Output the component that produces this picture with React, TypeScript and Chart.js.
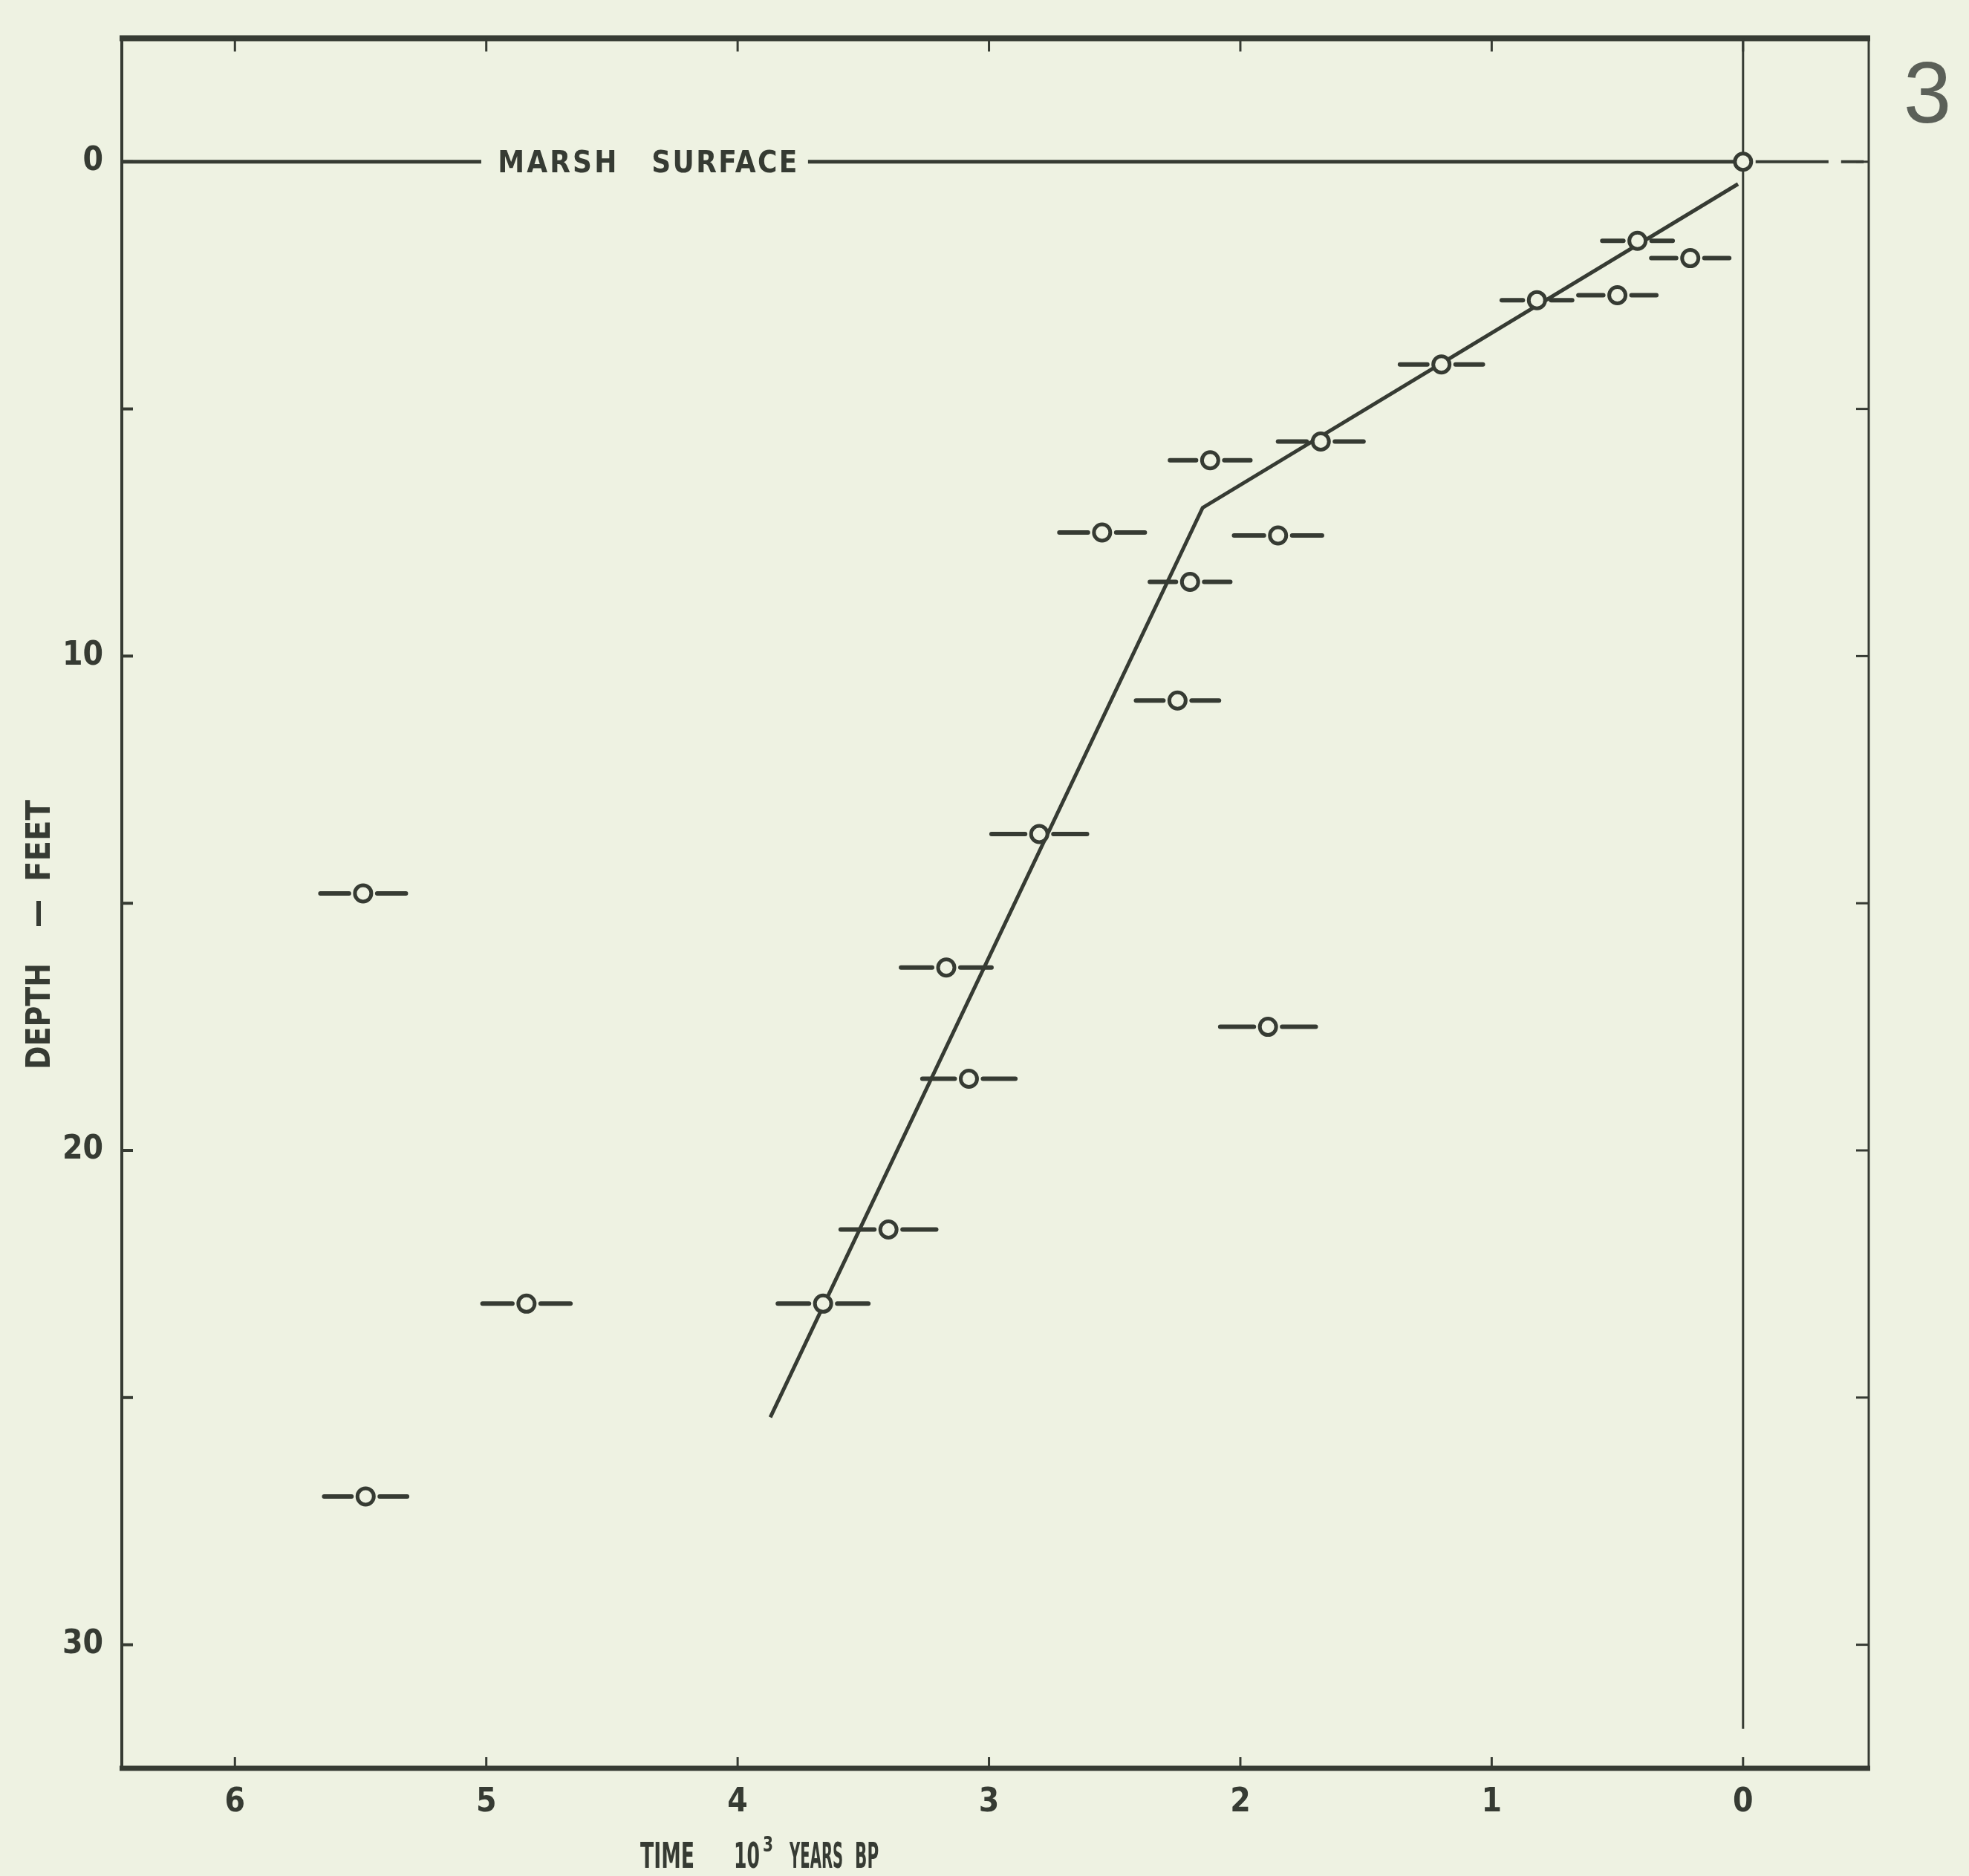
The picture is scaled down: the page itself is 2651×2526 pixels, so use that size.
import React, { useEffect, useRef } from 'react';
import { Chart, registerables } from 'chart.js';

Chart.register(...registerables);

// ---- data (thousands of years BP, depth in feet) ----
const X_TICKS = [6, 5, 4, 3, 2, 1, 0];
const Y_TICK_LABELS = [0, 10, 20, 30];
const Y_MINOR_TICKS = [0, 5, 10, 15, 20, 25, 30];

const POINT_AGE = [0.0, 0.42, 0.21, 0.82, 0.5, 1.2, 1.68, 2.12, 2.55, 1.85, 2.2, 2.25, 2.8, 5.49, 3.17, 1.89, 3.08, 3.4, 4.84, 3.66, 5.48];
const POINT_DEPTH = [0.0, 1.6, 1.95, 2.8, 2.7, 4.1, 5.66, 6.04, 7.5, 7.56, 8.5, 10.9, 13.6, 14.8, 16.3, 17.5, 18.55, 21.6, 23.1, 23.1, 27.0];
const POINT_ERR = [0.19, 0.14, 0.155, 0.14, 0.155, 0.165, 0.17, 0.16, 0.17, 0.175, 0.16, 0.165, 0.19, 0.17, 0.18, 0.19, 0.185, 0.19, 0.175, 0.18, 0.165];

const TREND_AGE = [3.87, 2.15, 0.02];
const TREND_DEPTH = [25.4, 7.0, 0.45];

const SURFACE_AGE = [6.45, 5.02, 4.36, 3.72, 0.0];
const SURFACE_DEPTH = [0, 0, null, 0, 0];
const SURFACE_RIGHT_AGE = [-0.05, -0.34, -0.36, -0.39, -0.48];
const SURFACE_RIGHT_DEPTH = [0, 0, null, 0, 0];

const ZERO_AGE = [0, 0];
const ZERO_DEPTH = [-2.5, 31.7];

const INK = '#363b33';
const PAPER = '#eef2e2';
const COND = '"DejaVu Sans Condensed", "DejaVu Sans", sans-serif';

// draw text so that it spans exactly `width` px, keeping glyph height (condensed lettering)
function fitText(ctx: CanvasRenderingContext2D, text: string, left: number, baseline: number, width: number) {
  const w = ctx.measureText(text).width;
  ctx.save();
  ctx.translate(left, baseline);
  ctx.scale(width / w, 1);
  ctx.textAlign = 'left';
  ctx.fillText(text, 0, 0);
  ctx.restore();
}

function spacedText(ctx: CanvasRenderingContext2D, text: string, left: number, cy: number, target: number) {
  (ctx as any).letterSpacing = '0px';
  const w = ctx.measureText(text).width;
  const n = text.length;
  const sp = n > 1 ? (target - w) / (n - 1) : 0;
  if (sp < 0) {
    fitText(ctx, text, left, cy, target);
    return;
  }
  (ctx as any).letterSpacing = sp + 'px';
  ctx.textAlign = 'left';
  ctx.fillText(text, left, cy);
  (ctx as any).letterSpacing = '0px';
}

const paperPlugin = {
  id: 'paper',
  beforeDraw(chart: any) {
    const { ctx, width, height } = chart;
    ctx.save();
    ctx.fillStyle = PAPER;
    ctx.fillRect(0, 0, width, height);
    ctx.restore();
  },
};

const decorPlugin = {
  id: 'decor',
  afterDatasetsDraw(chart: any) {
    const { ctx, chartArea: a, scales } = chart;
    const xs = scales.x;
    const ys = scales.y;
    ctx.save();
    ctx.strokeStyle = INK;
    ctx.fillStyle = INK;
    ctx.lineCap = 'butt';

    const seg = (x1: number, y1: number, x2: number, y2: number, w: number) => {
      ctx.lineWidth = w;
      ctx.beginPath();
      ctx.moveTo(x1, y1);
      ctx.lineTo(x2, y2);
      ctx.stroke();
    };
    // frame
    seg(a.left - 3, a.top, a.right + 2, a.top, 8);
    seg(a.left - 3, a.bottom, a.right + 2, a.bottom, 7);
    seg(a.left, a.top, a.left, a.bottom, 4);
    seg(a.right, a.top, a.right, a.bottom, 3);

    // inward ticks
    X_TICKS.forEach((v) => {
      const px = xs.getPixelForValue(v);
      seg(px, a.bottom, px, a.bottom - 15, 3);
      seg(px, a.top, px, a.top + 18, 3);
    });
    Y_MINOR_TICKS.forEach((v) => {
      const py = ys.getPixelForValue(v);
      seg(a.left, py, a.left + 15, py, 4);
      seg(a.right, py, a.right - 17, py, 3);
    });

    // error bars
    const gap = 19;
    ctx.lineCap = 'round';
    POINT_AGE.forEach((age, i) => {
      const py = ys.getPixelForValue(POINT_DEPTH[i]);
      const pc = xs.getPixelForValue(age);
      const pl = xs.getPixelForValue(age + POINT_ERR[i]);
      const pr = xs.getPixelForValue(age - POINT_ERR[i]);
      if (i > 0) seg(pl, py, pc - gap, py, 6);
      if (i > 0) seg(pc + gap, py, pr, py, 6);
    });
    ctx.lineCap = 'butt';

    // marsh surface label
    const y0 = ys.getPixelForValue(0);
    ctx.font = `bold 40px ${COND}`;
    ctx.textBaseline = 'alphabetic';
    const mx = xs.getPixelForValue(4.36);
    spacedText(ctx, 'MARSH', mx - 201, y0 + 14, 160);
    spacedText(ctx, 'SURFACE', mx + 6, y0 + 14, 196);

    // x title
    ctx.font = `bold 48px ${COND}`;
    const base = a.bottom + 134;
    const tx = xs.getPixelForValue(4.0);
    fitText(ctx, 'TIME', tx - 131, base, 73);
    fitText(ctx, '10', tx - 5, base, 35);
    ctx.font = `bold 28px ${COND}`;
    fitText(ctx, '3', tx + 34, base - 22, 14);
    ctx.font = `bold 48px ${COND}`;
    fitText(ctx, 'YEARS', tx + 70, base, 72);
    fitText(ctx, 'BP', tx + 158, base, 32);

    // y title (reads bottom to top)
    const drawUp = (text: string, startY: number, len: number) => {
      ctx.save();
      ctx.translate(67, startY);
      ctx.rotate(-Math.PI / 2);
      fitText(ctx, text, 0, 0, len);
      ctx.restore();
    };
    ctx.font = `bold 44px ${COND}`;
    drawUp('DEPTH', 1440, 143);
    drawUp('FEET', 1187, 110);
    ctx.fillRect(49, 1213, 6, 34);

    // page number
    ctx.fillStyle = '#5b6058';
    ctx.font = '116px "Liberation Sans", Arial, sans-serif';
    ctx.textAlign = 'center';
    ctx.textBaseline = 'middle';
    ctx.fillText('3', a.right + 79, a.top + 82);

    ctx.restore();
  },
};

export default function App() {
  const ref = useRef<HTMLCanvasElement>(null);
  useEffect(() => {
    document.body.style.margin = '0';
    document.body.style.overflow = 'hidden';
    const canvas = ref.current!;
    const tickFont = { family: COND, size: 44, weight: 'bold' as const };
    const chart = new Chart(canvas, {
      type: 'scatter',
      data: {
        datasets: [
          {
            label: 'samples',
            data: POINT_AGE.map((x, i) => ({ x, y: POINT_DEPTH[i] })),
            pointRadius: 11,
            pointBorderWidth: 5,
            pointBorderColor: INK,
            pointBackgroundColor: PAPER,
            showLine: false,
          },
          {
            label: 'trend',
            data: TREND_AGE.map((x, i) => ({ x, y: TREND_DEPTH[i] })),
            showLine: true,
            pointRadius: 0,
            borderColor: INK,
            borderWidth: 5,
          },
          {
            label: 'surface',
            data: SURFACE_AGE.map((x, i) => ({ x, y: SURFACE_DEPTH[i] as any })),
            showLine: true,
            spanGaps: false,
            pointRadius: 0,
            borderColor: INK,
            borderWidth: 5,
          },
          {
            label: 'surface-right',
            data: SURFACE_RIGHT_AGE.map((x, i) => ({ x, y: SURFACE_RIGHT_DEPTH[i] as any })),
            showLine: true,
            spanGaps: false,
            pointRadius: 0,
            borderColor: INK,
            borderWidth: 4,
          },
          {
            label: 'zero',
            data: ZERO_AGE.map((x, i) => ({ x, y: ZERO_DEPTH[i] })),
            showLine: true,
            pointRadius: 0,
            borderColor: INK,
            borderWidth: 3,
          },
        ],
      },
      options: {
        animation: false,
        responsive: false,
        maintainAspectRatio: false,
        devicePixelRatio: 1,
        events: [],
        layout: { padding: { left: 0, right: 135, top: 51, bottom: 0 } },
        plugins: { legend: { display: false }, tooltip: { enabled: false }, title: { display: false } },
        scales: {
          x: {
            type: 'linear',
            reverse: true,
            min: -0.5,
            max: 6.45,
            grid: { display: false, drawTicks: false },
            border: { display: false },
            afterBuildTicks: (s: any) => { s.ticks = X_TICKS.map((v) => ({ value: v })); },
            afterFit: (s: any) => { s.height = 145; },
            ticks: { font: tickFont, color: INK, padding: 20, maxRotation: 0, callback: (v: any) => String(v) },
          },
          y: {
            type: 'linear',
            reverse: true,
            min: -2.5,
            max: 32.5,
            grid: { display: false, drawTicks: false },
            border: { display: false },
            afterBuildTicks: (s: any) => { s.ticks = Y_TICK_LABELS.map((v) => ({ value: v })); },
            afterFit: (s: any) => { s.width = 164; },
            ticks: { font: tickFont, color: INK, padding: 25, callback: (v: any) => String(v) },
          },
        },
      },
      plugins: [paperPlugin, decorPlugin],
    });
    return () => chart.destroy();
  }, []);
  return <canvas ref={ref} width={2651} height={2526} style={{ display: 'block', width: 2651, height: 2526 }} />;
}
